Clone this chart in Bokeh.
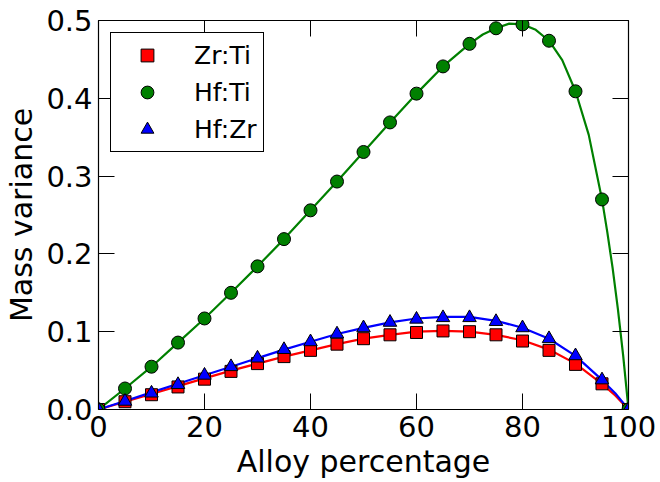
from bokeh.plotting import figure
from bokeh.models import (LinearAxis, Range1d, FixedTicker, Legend, LegendItem,
                          PrintfTickFormatter, CustomJSTickFormatter)
from bokeh.embed import file_html
from bokeh.resources import INLINE

# ---- data ----
alloy_pct = [0, 5, 10, 15, 20, 25, 30, 35, 40, 45, 50, 55, 60, 65, 70, 75, 80, 85, 90, 95, 100]
zr_ti = [0, 0.010, 0.019, 0.029, 0.039, 0.049, 0.059, 0.068, 0.076, 0.084, 0.091,
         0.096, 0.099, 0.101, 0.100, 0.096, 0.088, 0.076, 0.058, 0.033, 0]
hf_ti = [0, 0.027, 0.055, 0.086, 0.117, 0.150, 0.184, 0.219, 0.256, 0.293, 0.331,
         0.369, 0.406, 0.441, 0.470, 0.490, 0.495, 0.474, 0.409, 0.270, 0]
hf_zr = [0, 0.0105, 0.021, 0.032, 0.044, 0.055, 0.066, 0.077, 0.087, 0.097, 0.105,
         0.112, 0.116, 0.118, 0.118, 0.113, 0.105, 0.091, 0.069, 0.038, 0]

# smooth curves (denser where they bend)
zr_ti_curve_x = [0, 5, 10, 15, 20, 25, 30, 35, 40, 45, 50, 55, 60, 65, 70, 75, 80, 85, 90, 95, 97.5, 100]
zr_ti_curve_y = [0, 0.010, 0.020, 0.030, 0.040, 0.050, 0.059, 0.068, 0.076, 0.084, 0.091,
                 0.096, 0.100, 0.101, 0.100, 0.096, 0.089, 0.077, 0.059, 0.033, 0.018, 0]
hf_zr_curve_x = [0, 5, 10, 15, 20, 25, 30, 35, 40, 45, 50, 55, 60, 65, 70, 75, 80, 85, 90, 95, 97.5, 100]
hf_zr_curve_y = [0, 0.011, 0.022, 0.033, 0.044, 0.055, 0.066, 0.077, 0.087, 0.097, 0.105,
                 0.112, 0.117, 0.119, 0.119, 0.114, 0.105, 0.091, 0.069, 0.038, 0.021, 0]
hf_ti_curve_x = [0, 5, 10, 15, 20, 25, 30, 35, 40, 45, 50, 55, 60, 65, 70, 72.5, 75, 77.5, 80,
                 82.5, 85, 87.5, 90, 92.5, 95, 96, 97, 98, 99, 100]
hf_ti_curve_y = [0, 0.027, 0.055, 0.086, 0.117, 0.150, 0.184, 0.219, 0.256, 0.293, 0.331,
                 0.369, 0.406, 0.441, 0.470, 0.482, 0.490, 0.496, 0.495, 0.488, 0.474, 0.449,
                 0.409, 0.353, 0.270, 0.228, 0.182, 0.129, 0.069, 0]

series_names = ["Zr:Ti", "Hf:Ti", "Hf:Zr"]
x_ticks = [0, 20, 40, 60, 80, 100]
y_ticks = [0.0, 0.1, 0.2, 0.3, 0.4, 0.5]

FONT = "DejaVu Sans"

p = figure(width=660, height=482, output_backend="svg", toolbar_location=None,
           x_range=Range1d(0, 100), y_range=Range1d(0, 0.5),
           min_border_left=98, min_border_right=32, min_border_top=20, min_border_bottom=73)
p.grid.visible = False
p.outline_line_color = "black"
p.outline_line_width = 1.2
p.background_fill_color = "white"
p.border_fill_color = "white"

p.xaxis.ticker = FixedTicker(ticks=x_ticks)
p.yaxis.ticker = FixedTicker(ticks=y_ticks)
p.xaxis.formatter = PrintfTickFormatter(format="%d")
p.yaxis.formatter = PrintfTickFormatter(format="%.1f")
p.xaxis.axis_label = "Alloy percentage"
p.yaxis.axis_label = "Mass variance"

for ax in [p.xaxis[0], p.yaxis[0]]:
    ax.axis_line_color = None
    ax.major_tick_in = 16
    ax.major_tick_out = 0
    ax.major_tick_line_color = "black"
    ax.major_tick_line_width = 1
    ax.minor_tick_line_color = None
    ax.major_label_text_font = FONT
    ax.major_label_text_font_size = "29px"
    ax.major_label_text_color = "black"
    ax.major_label_standoff = 6
    ax.axis_label_text_font = FONT
    ax.axis_label_text_font_size = "30px"
    ax.axis_label_text_font_style = "normal"
    ax.axis_label_text_color = "black"
    ax.axis_label_standoff = 4

blank = CustomJSTickFormatter(code="return ''")
right_ax = LinearAxis(ticker=FixedTicker(ticks=y_ticks), formatter=blank)
top_ax = LinearAxis(ticker=FixedTicker(ticks=x_ticks), formatter=blank)
for ax in [right_ax, top_ax]:
    ax.axis_line_color = None
    ax.major_tick_in = 16
    ax.major_tick_out = 0
    ax.major_tick_line_color = "black"
    ax.major_tick_line_width = 1
    ax.minor_tick_line_color = None
    ax.major_label_text_font_size = "1px"
    ax.major_label_standoff = 0
p.add_layout(right_ax, "right")
p.add_layout(top_ax, "above")

# lines
p.line(zr_ti_curve_x, zr_ti_curve_y, line_color="#ff0000", line_width=2.2)
p.line(hf_ti_curve_x, hf_ti_curve_y, line_color="#008000", line_width=2.2)
p.line(hf_zr_curve_x, hf_zr_curve_y, line_color="#0000ff", line_width=2.2)

# markers
r_sq = p.scatter(alloy_pct, zr_ti, marker="square", size=12, fill_color="#ff0000",
                 line_color="black", line_width=1)
r_ci = p.scatter(alloy_pct, hf_ti, marker="circle", size=13, fill_color="#008000",
                 line_color="black", line_width=1)
r_tr = p.scatter(alloy_pct, hf_zr, marker="triangle", size=13.5, fill_color="#0000ff",
                 line_color="black", line_width=1)

legend = Legend(items=[LegendItem(label=series_names[0], renderers=[r_sq]),
                       LegendItem(label=series_names[1], renderers=[r_ci]),
                       LegendItem(label=series_names[2], renderers=[r_tr])],
                location="top_left")
legend.label_text_font = FONT
legend.label_text_font_size = "25px"
legend.label_text_color = "black"
legend.border_line_color = "black"
legend.border_line_width = 1
legend.border_line_alpha = 1
legend.background_fill_color = "white"
legend.background_fill_alpha = 1
legend.padding = 6
legend.spacing = 5
legend.glyph_width = 60
legend.glyph_height = 32
legend.label_height = 32
legend.label_standoff = 17
legend.margin = 12
p.add_layout(legend)

open("out.html", "w").write(file_html(p, INLINE))
